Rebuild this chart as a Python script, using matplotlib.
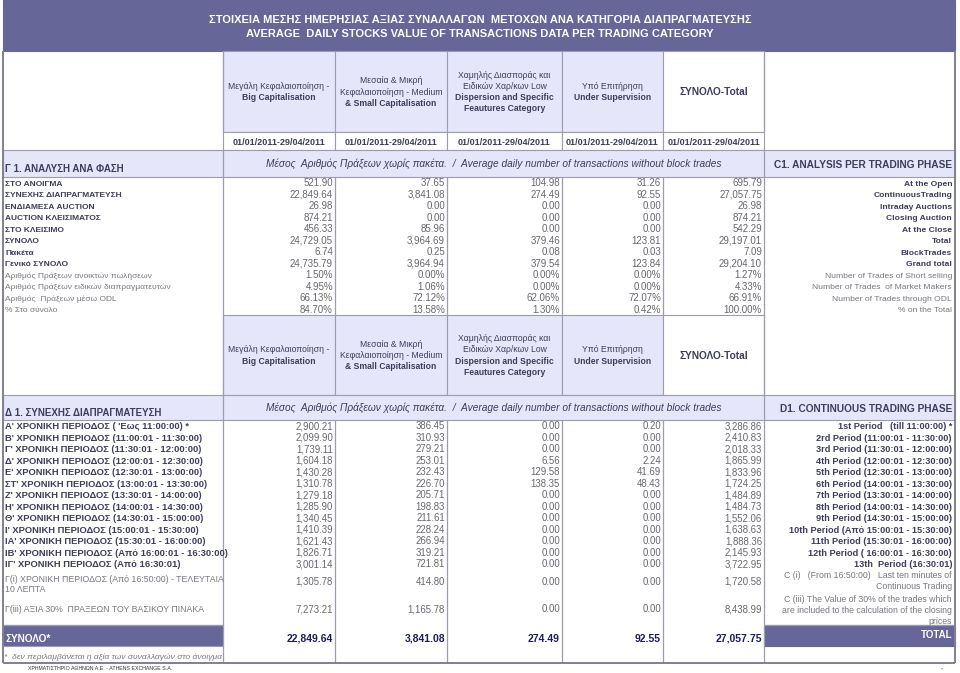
import matplotlib.pyplot as plt
from matplotlib.patches import Rectangle

plt.rcParams['font.family'] = ['Liberation Sans', 'DejaVu Sans']

# ------------------------------------------------------------
# data
# ------------------------------------------------------------
TITLE_GR = "ΣΤΟΙΧΕΙΑ ΜΕΣΗΣ ΗΜΕΡΗΣΙΑΣ ΑΞΙΑΣ ΣΥΝΑΛΛΑΓΩΝ  ΜΕΤΟΧΩΝ ΑΝΑ ΚΑΤΗΓΟΡΙΑ ΔΙΑΠΡΑΓΜΑΤΕΥΣΗΣ"
TITLE_EN = "AVERAGE  DAILY STOCKS VALUE OF TRANSACTIONS DATA PER TRADING CATEGORY"
PERIOD = "01/01/2011-29/04/2011"
CATEGORY_LINES = [
    ["Μεγάλη Κεφαλαιοποίηση -", "Big Capitalisation"],
    ["Μεσαία & Μικρή", "Κεφαλαιοποίηση - Medium", "& Small Capitalisation"],
    ["Χαμηλής Διασποράς και", "Ειδικών Χαρ/κων Low", "Dispersion and Specific", "Feautures Category"],
    ["Υπό Επιτήρηση", "Under Supervision"],
]
TOTAL_HEADER = "ΣΥΝΟΛΟ-Total"
SUBTITLE = "Μέσος  Αριθμός Πράξεων χωρίς πακέτα.  /  Average daily number of transactions without block trades"

# C1 - analysis per trading phase
PHASE_TITLE_GR = "Γ 1. ΑΝΑΛΥΣΗ ΑΝΑ ΦΑΣΗ"
PHASE_TITLE_EN = "C1. ANALYSIS PER TRADING PHASE"
PHASE_GR = ["ΣΤΟ ΑΝΟΙΓΜΑ", "ΣΥΝΕΧΗΣ ΔΙΑΠΡΑΓΜΑΤΕΥΣΗ", "ΕΝΔΙΑΜΕΣΑ AUCTION", "AUCTION ΚΛΕΙΣΙΜΑΤΟΣ",
            "ΣΤΟ ΚΛΕΙΣΙΜΟ", "ΣΥΝΟΛΟ", "Πακέτα", "Γενικό ΣΥΝΟΛΟ",
            "Αριθμός Πράξεων ανοικτών πωλήσεων", "Αριθμός Πράξεων ειδικών διαπραγματευτών",
            "Αριθμός  Πράξεων μέσω ODL", "% Στο σύνολο"]
PHASE_EN = ["At the Open", "ContinuousTrading", "Intraday Auctions", "Closing Auction",
            "At the Close", "Total", "BlockTrades", "Grand total",
            "Number of Trades of Short selling", "Number of Trades  of Market Makers",
            "Number of Trades through ODL", "% on the Total"]
PHASE_PCT = [False] * 8 + [True] * 4
PHASE_BIG = [521.90, 22849.64, 26.98, 874.21, 456.33, 24729.05, 6.74, 24735.79, 1.50, 4.95, 66.13, 84.70]
PHASE_MID = [37.65, 3841.08, 0.00, 0.00, 85.96, 3964.69, 0.25, 3964.94, 0.00, 1.06, 72.12, 13.58]
PHASE_LOW = [104.98, 274.49, 0.00, 0.00, 0.00, 379.46, 0.08, 379.54, 0.00, 0.00, 62.06, 1.30]
PHASE_SUP = [31.26, 92.55, 0.00, 0.00, 0.00, 123.81, 0.03, 123.84, 0.00, 0.00, 72.07, 0.42]
PHASE_TOT = [695.79, 27057.75, 26.98, 874.21, 542.29, 29197.01, 7.09, 29204.10, 1.27, 4.33, 66.91, 100.00]

# D1 - continuous trading by period
CONT_TITLE_GR = "Δ 1. ΣΥΝΕΧΗΣ ΔΙΑΠΡΑΓΜΑΤΕΥΣΗ"
CONT_TITLE_EN = "D1. CONTINUOUS TRADING PHASE"
CONT_GR = ["Α' ΧΡΟΝΙΚΗ ΠΕΡΙΟΔΟΣ ( 'Εως 11:00:00) *",
           "Β' ΧΡΟΝΙΚΗ ΠΕΡΙΟΔΟΣ (11:00:01 - 11:30:00)",
           "Γ' ΧΡΟΝΙΚΗ ΠΕΡΙΟΔΟΣ (11:30:01 - 12:00:00)",
           "Δ' ΧΡΟΝΙΚΗ ΠΕΡΙΟΔΟΣ (12:00:01 - 12:30:00)",
           "Ε' ΧΡΟΝΙΚΗ ΠΕΡΙΟΔΟΣ (12:30:01 - 13:00:00)",
           "ΣΤ' ΧΡΟΝΙΚΗ ΠΕΡΙΟΔΟΣ (13:00:01 - 13:30:00)",
           "Ζ' ΧΡΟΝΙΚΗ ΠΕΡΙΟΔΟΣ (13:30:01 - 14:00:00)",
           "Η' ΧΡΟΝΙΚΗ ΠΕΡΙΟΔΟΣ (14:00:01 - 14:30:00)",
           "Θ' ΧΡΟΝΙΚΗ ΠΕΡΙΟΔΟΣ (14:30:01 - 15:00:00)",
           "Ι' ΧΡΟΝΙΚΗ ΠΕΡΙΟΔΟΣ (15:00:01 - 15:30:00)",
           "ΙΑ' ΧΡΟΝΙΚΗ ΠΕΡΙΟΔΟΣ (15:30:01 - 16:00:00)",
           "ΙΒ' ΧΡΟΝΙΚΗ ΠΕΡΙΟΔΟΣ (Από 16:00:01 - 16:30:00)",
           "ΙΓ' ΧΡΟΝΙΚΗ ΠΕΡΙΟΔΟΣ (Από 16:30:01)",
           "Γ(i) ΧΡΟΝΙΚΗ ΠΕΡΙΟΔΟΣ (Από 16:50:00) - ΤΕΛΕΥΤΑΙΑ\n10 ΛΕΠΤΑ",
           "Γ(iii) ΑΞΙΑ 30%  ΠΡΑΞΕΩΝ ΤΟΥ ΒΑΣΙΚΟΥ ΠΙΝΑΚΑ"]
CONT_EN = ["1st Period   (till 11:00:00) *",
           "2rd Period (11:00:01 - 11:30:00)",
           "3rd Period (11:30:01 - 12:00:00)",
           "4th Period (12:00:01 - 12:30:00)",
           "5th Period (12:30:01 - 13:00:00)",
           "6th Period (14:00:01 - 13:30:00)",
           "7th Period (13:30:01 - 14:00:00)",
           "8th Period (14:00:01 - 14:30:00)",
           "9th Period (14:30:01 - 15:00:00)",
           "10th Period (Από 15:00:01 - 15:30:00)",
           "11th Period (15:30:01 - 16:00:00)",
           "12th Period ( 16:00:01 - 16:30:00)",
           "13th  Period (16:30:01)",
           "C (i)   (From 16:50:00)   Last ten minutes of\nContinuous Trading",
           "C (iii) The Value of 30% of the trades which\nare included to the calculation of the closing\nprices"]
CONT_BIG = [2900.21, 2099.90, 1739.11, 1604.18, 1430.28, 1310.78, 1279.18, 1285.90,
            1340.45, 1410.39, 1621.43, 1826.71, 3001.14, 1305.78, 7273.21]
CONT_MID = [386.45, 310.93, 279.21, 253.01, 232.43, 226.70, 205.71, 198.83,
            211.61, 228.24, 266.94, 319.21, 721.81, 414.80, 1165.78]
CONT_LOW = [0.00, 0.00, 0.00, 6.56, 129.58, 138.35, 0.00, 0.00,
            0.00, 0.00, 0.00, 0.00, 0.00, 0.00, 0.00]
CONT_SUP = [0.20, 0.00, 0.00, 2.24, 41.69, 48.43, 0.00, 0.00,
            0.00, 0.00, 0.00, 0.00, 0.00, 0.00, 0.00]
CONT_TOT = [3286.86, 2410.83, 2018.33, 1865.99, 1833.96, 1724.25, 1484.89, 1484.73,
            1552.06, 1638.63, 1888.36, 2145.93, 3722.95, 1720.58, 8438.99]
CONT_TOTALS = [22849.64, 3841.08, 274.49, 92.55, 27057.75]
TOTAL_GR = "ΣΥΝΟΛΟ*"
TOTAL_EN = "TOTAL"
FOOTNOTE = "*  δεν περιλαμβάνεται η αξία των συναλλαγών στο άνοιγμα"
FOOTER = "ΧΡΗΜΑΤΙΣΤΗΡΙΟ ΑΘΗΝΩΝ Α.Ε. - ATHENS EXCHANGE S.A."

# ------------------------------------------------------------
# style / layout
# ------------------------------------------------------------
PURPLE = '#666699'
LAVENDER = '#E6E6FA'
LINE = '#9c9cae'
BORDER = '#80808f'
DARK = '#3d3d5c'
NUM = '#666670'
GREY = '#777780'
NAVY = '#1c1c5c'

COL_X = [3, 223, 335, 447, 562, 663, 764, 955]
ROW_H = 11.5

fig = plt.figure(figsize=(9.6, 6.73), dpi=100)
ax = fig.add_axes([0, 0, 1, 1])
ax.set_xlim(0, 960)
ax.set_ylim(673, 0)
ax.axis('off')


def box(x0, y0, x1, y1, fc='white', ec=LINE, lw=0.8):
    ax.add_patch(Rectangle((x0, y0), x1 - x0, y1 - y0, facecolor=fc, edgecolor=ec, linewidth=lw))


def vline(x, y0, y1, color=LINE, lw=0.9):
    ax.plot([x, x], [y0, y1], color=color, lw=lw, solid_capstyle='butt')


def hline(y, x0, x1, color=LINE, lw=0.9):
    ax.plot([x0, x1], [y, y], color=color, lw=lw, solid_capstyle='butt')


def txt(x, y, s, size, weight='normal', color=DARK, ha='left', style='normal', clip=None, va='center'):
    if va == 'center':
        # centre on the cap height so that all strings in a row share one baseline
        y = y + 0.36 * size * 100 / 72
        va = 'baseline'
    t = ax.text(x, y, s, fontsize=size, fontweight=weight, color=color, ha=ha, va=va,
                fontstyle=style, linespacing=1.25)
    if clip is not None:
        r = Rectangle((clip[0], clip[1]), clip[2] - clip[0], clip[3] - clip[1], transform=ax.transData)
        t.set_clip_path(r)
    return t


def fmt(v, pct=False):
    return f"{v:.2f}%" if pct else f"{v:,.2f}"


def header_cells(y0, y1):
    yc = (y0 + y1) / 2
    for j in range(5):
        x0, x1 = COL_X[j + 1], COL_X[j + 2]
        box(x0, y0, x1, y1, fc=LAVENDER if j < 4 else 'white')
        if j < 4:
            lines = CATEGORY_LINES[j]
            start = yc - (len(lines) - 1) * 11.2 / 2
            for k, s in enumerate(lines):
                txt((x0 + x1) / 2, start + k * 11.2, s, 6.2,
                    weight='bold' if s.isascii() else 'normal', ha='center')
        else:
            txt((x0 + x1) / 2, yc, TOTAL_HEADER, 7.3, weight='bold', ha='center')
    vline(COL_X[1], y0, y1)
    vline(COL_X[6], y0, y1)


# title band
box(3, 0, 955, 51, fc=PURPLE, ec=PURPLE)
txt(480, 19, TITLE_GR, 8.05, weight='bold', color='white', ha='center')
txt(480, 33, TITLE_EN, 8.05, weight='bold', color='white', ha='center')

# ---------------- section C1 ----------------
header_cells(51, 132)
for j in range(5):
    x0, x1 = COL_X[j + 1], COL_X[j + 2]
    box(x0, 132, x1, 150)
    txt((x0 + x1) / 2, 141.5, PERIOD, 6.5, weight='bold', ha='center')

box(3, 150, 955, 177, fc=LAVENDER)
vline(COL_X[1], 150, 177)
vline(COL_X[6], 150, 177)
txt(5, 171.5, PHASE_TITLE_GR, 7.0, weight='bold', va='baseline')
txt((COL_X[1] + COL_X[6]) / 2, 163, SUBTITLE, 7.3, style='italic', ha='center')
txt(952, 164, PHASE_TITLE_EN, 7.25, weight='bold', ha='right')

phase_cols = [PHASE_BIG, PHASE_MID, PHASE_LOW, PHASE_SUP, PHASE_TOT]
for x in COL_X[1:7]:
    vline(x, 177, 315)
for i in range(len(PHASE_GR)):
    y = 177 + (i + 0.5) * ROW_H
    strong = not PHASE_PCT[i]
    txt(5, y, PHASE_GR[i], 6.0,
        weight='bold' if strong else 'normal', color=DARK if strong else GREY)
    txt(952, y, PHASE_EN[i], 6.1, weight='bold' if strong else 'normal',
        color=DARK if strong else GREY, ha='right')
    for j, col in enumerate(phase_cols):
        txt(COL_X[j + 2] - 2, y, fmt(col[i], PHASE_PCT[i]), 7.0, color=NUM, ha='right')

# ---------------- section D1 ----------------
header_cells(315, 395)
box(3, 395, 955, 420, fc=LAVENDER)
vline(COL_X[1], 395, 420)
vline(COL_X[6], 395, 420)
txt(5, 416, CONT_TITLE_GR, 7.0, weight='bold', va='baseline')
txt((COL_X[1] + COL_X[6]) / 2, 407, SUBTITLE, 7.3, style='italic', ha='center')
txt(952, 408, CONT_TITLE_EN, 7.25, weight='bold', ha='right')

# row edges: 13 single rows, then the two taller note rows
edges = [420 + k * ROW_H for k in range(14)] + [593, 625]
cont_cols = [CONT_BIG, CONT_MID, CONT_LOW, CONT_SUP, CONT_TOT]
for x in COL_X[1:7]:
    vline(x, 420, 663)
for i in range(len(CONT_GR)):
    y0, y1 = edges[i], edges[i + 1]
    yc = (y0 + y1) / 2
    if i < 13:
        txt(5, yc, CONT_GR[i], 6.75, weight='bold', clip=(3, y0, 222, y1))
        txt(952, yc, CONT_EN[i], 6.6, weight='bold', ha='right')
    else:
        multi = '\n' in CONT_GR[i]
        txt(5, y0 + 5.0 if multi else yc, CONT_GR[i], 6.3, color=GREY,
            va='top' if multi else 'center', clip=(3, y0, 222, y1))
        txt(952, y0 + 2, CONT_EN[i], 6.3, color=GREY, ha='right', va='top')
    for j, col in enumerate(cont_cols):
        txt(COL_X[j + 2] - 2, yc, fmt(col[i]), 6.9, color=NUM, ha='right')

hline(625, 3, COL_X[1])
hline(625, COL_X[6], 955)
box(3, 625, COL_X[1], 646, fc=PURPLE, ec=LINE)
box(COL_X[6], 625, 955, 646, fc=PURPLE, ec=PURPLE)
txt(5, 638, TOTAL_GR, 7.2, weight='bold', color='white')
txt(952, 634, TOTAL_EN, 7.0, weight='bold', color='white', ha='right')
for j, v in enumerate(CONT_TOTALS):
    txt(COL_X[j + 2] - 2, 638, fmt(v), 7.5, weight='bold', color=NAVY, ha='right')
txt(4, 655.5, FOOTNOTE, 6.1, style='italic', color=GREY, clip=(3, 646, 222, 663))

# outer frame
vline(3, 51, 663, color=BORDER, lw=1.4)
vline(955, 51, 663, color=BORDER, lw=1.4)
hline(663, 3, 955, color=BORDER, lw=1.4)

txt(28, 668.5, FOOTER, 3.8, color='#333333')
txt(941, 670, '"', 4.0, color=GREY)

fig.savefig('out.png', dpi=100)
